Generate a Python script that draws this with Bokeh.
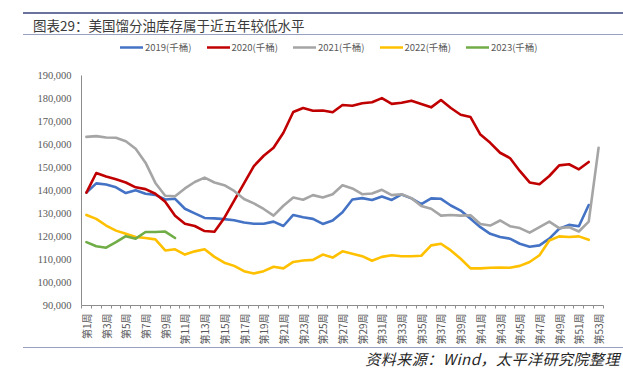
import math
from bokeh.plotting import figure
from bokeh.models import (Range1d, FixedTicker, NumeralTickFormatter, Legend, LegendItem,
                          CustomJSTickFormatter, Div)
from bokeh.layouts import column
from bokeh.embed import file_html
from bokeh.resources import INLINE

# ---------------- data (千桶) ----------------
weeks = list(range(1, 54))
week_labels = [f"第{w}周" for w in weeks]
y_ticks = list(range(90000, 190001, 10000))

s2019 = [139.0, 143.0, 142.5, 141.3, 138.8, 140.0, 138.5, 138.0, 136.0, 136.3,
         132.0, 130.0, 128.0, 127.8, 127.5, 127.0, 126.0, 125.5, 125.5, 126.4,
         124.5, 129.3, 128.3, 127.6, 125.4, 126.9, 130.5, 136.0, 136.6, 135.8,
         137.3, 135.8, 138.2, 136.5, 134.0, 136.5, 136.3, 133.4, 131.2, 127.6,
         124.0, 121.1, 119.7, 119.0, 116.8, 115.5, 116.1, 119.0, 123.3, 125.0,
         124.4, 133.6]
s2020 = [139.0, 147.5, 146.0, 144.8, 143.4, 141.3, 140.5, 138.5, 135.0, 129.0,
         125.5, 124.5, 122.3, 122.0, 128.0, 135.5, 143.0, 150.5, 155.0, 158.5,
         165.0, 174.0, 175.7, 174.5, 174.6, 173.9, 177.0, 176.7, 177.8, 178.2,
         180.0, 177.5, 178.0, 178.9, 177.5, 176.0, 179.2, 175.7, 172.8, 171.8,
         164.2, 160.6, 156.3, 154.0, 148.4, 143.4, 142.6, 146.2, 150.8, 151.3,
         149.1, 152.3]
s2021 = [163.2, 163.5, 162.9, 162.8, 161.3, 158.0, 152.0, 143.2, 137.6, 137.4,
         140.8, 143.6, 145.5, 143.4, 142.2, 139.7, 136.2, 134.3, 131.9, 129.0,
         133.3, 136.9, 135.9, 137.9, 136.9, 138.3, 142.2, 140.8, 138.3, 138.6,
         140.2, 137.9, 138.3, 136.6, 133.2, 132.0, 129.0, 129.3, 129.0, 129.2,
         125.4, 124.7, 126.9, 124.4, 123.6, 121.6, 124.0, 126.4, 123.6, 124.0,
         122.1, 126.4, 158.4]
s2022 = [129.3, 127.6, 124.7, 122.5, 121.1, 119.7, 119.3, 118.7, 113.9, 114.4,
         112.1, 113.5, 114.4, 111.1, 108.6, 107.2, 104.9, 103.9, 104.9, 106.8,
         106.1, 108.9, 109.5, 109.8, 112.1, 110.8, 113.5, 112.5, 111.4, 109.4,
         111.1, 111.8, 111.4, 111.4, 111.6, 116.1, 116.8, 113.9, 110.3, 106.1,
         106.1, 106.4, 106.5, 106.4, 107.2, 108.9, 111.8, 118.2, 120.0, 119.7,
         120.0, 118.5]
s2023 = [117.5, 115.7, 115.1, 117.5, 120.1, 119.0, 121.9, 121.9, 122.1, 119.3]

series = [
    ("2019(千桶)", s2019, "#4472C4"),
    ("2020(千桶)", s2020, "#C00000"),
    ("2021(千桶)", s2021, "#A5A5A5"),
    ("2022(千桶)", s2022, "#FFC000"),
    ("2023(千桶)", s2023, "#70AD47"),
]

title_text = "图表29：美国馏分油库存属于近五年较低水平"
source_text = "资料来源：Wind，太平洋研究院整理"

W = 623
CJK = "Noto Sans CJK SC"
HEAD_H, PLOT_H, FOOT_H = 38, 309, 33

# ---------------- header (HTML) ----------------
header = Div(width=W, height=HEAD_H, margin=(0, 0, 0, 0), text=(
    '<div style="position:relative;width:623px;height:38px;margin:0;padding:0;">'
    '<div style="position:absolute;left:23px;top:12px;width:600px;height:2px;background:#6a72a0;"></div>'
    '<div style="position:absolute;left:33px;top:17px;white-space:nowrap;'
    "font-family:'Noto Sans CJK SC';font-size:13.5px;line-height:16px;color:#3a3a3a;\">"
    + title_text + '</div>'
    '<div style="position:absolute;left:23px;top:34px;width:600px;height:1px;background:#9aa1c0;"></div>'
    '</div>'))

# ---------------- main chart ----------------
# frame top sits 37 px above the 190,000 level; the axis itself is bounded to 90k-190k
y_top = 190000 + 100000 * 37 / 233
p = figure(width=W, height=PLOT_H, x_range=Range1d(0.5, 53.5), y_range=Range1d(90000, y_top),
           output_backend="svg", toolbar_location=None, title=None, margin=(0, 0, 0, 0),
           min_border_left=81, min_border_right=20, min_border_top=0, min_border_bottom=39)
p.grid.visible = False
p.outline_line_color = None

items = []
for name, vals, col in series:
    r = p.line(weeks[:len(vals)], [v * 1000 for v in vals], line_color=col,
               line_width=2.6, line_join="round", line_cap="round")
    items.append(LegendItem(label=name, renderers=[r]))

legend = Legend(items=items, orientation="horizontal", location=(39, 251),
                glyph_width=23, glyph_height=10, label_height=10, label_standoff=2,
                spacing=15, padding=0, margin=0, border_line_color=None,
                background_fill_alpha=0, label_text_font=CJK,
                label_text_font_size="9.5px", label_text_color="#595959")
p.add_layout(legend)

ax = p.xaxis[0]
ax.ticker = FixedTicker(ticks=list(range(1, 54, 2)), minor_ticks=[w + 0.5 for w in range(0, 54)])
ax.formatter = CustomJSTickFormatter(args=dict(labels=week_labels),
                                     code="return labels[Math.round(tick) - 1];")
ax.major_label_orientation = math.pi / 2
ax.major_tick_line_color = None
ax.major_tick_out = 0
ax.major_tick_in = 0
ax.minor_tick_out = 3
ax.minor_tick_in = 0
ax.minor_tick_line_color = "#8c8c8c"
ax.axis_line_color = "#8c8c8c"
ax.major_label_standoff = 5
ax.major_label_text_font = CJK
ax.major_label_text_font_size = "10px"
ax.major_label_text_color = "#595959"

ay = p.yaxis[0]
ay.bounds = (90000, 190000)
ay.ticker = FixedTicker(ticks=y_ticks)
ay.formatter = NumeralTickFormatter(format="0,0")
ay.major_tick_line_color = None
ay.minor_tick_line_color = None
ay.major_tick_out = 0
ay.major_tick_in = 0
ay.axis_line_color = "#8c8c8c"
ay.major_label_standoff = 10
ay.major_label_text_font = "Liberation Serif"
ay.major_label_text_font_size = "10.5px"
ay.major_label_text_color = "#595959"

# ---------------- footer (HTML) ----------------
footer = Div(width=W, height=FOOT_H, margin=(0, 0, 0, 0), text=(
    '<div style="position:relative;width:623px;height:33px;margin:0;padding:0;">'
    '<div style="position:absolute;left:23px;top:0px;width:600px;height:1px;background:#9aa1c0;"></div>'
    '<div style="position:absolute;right:3px;top:3px;white-space:nowrap;letter-spacing:0.5px;'
    "font-family:'Noto Sans CJK SC';font-size:15px;font-style:italic;line-height:18px;color:#262626;\">"
    + source_text + '</div>'
    '</div>'))

layout = column(header, p, footer, spacing=0)
open("out.html", "w").write(file_html(layout, INLINE))
